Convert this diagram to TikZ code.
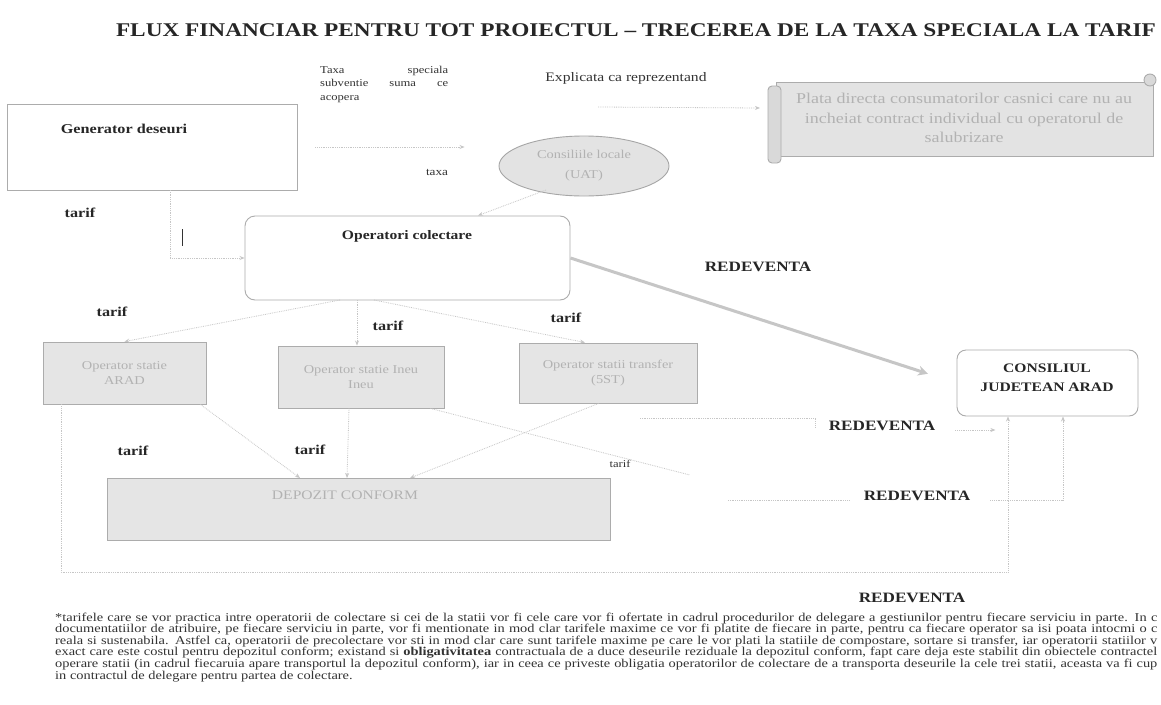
\documentclass[tikz,border=0pt]{standalone}
\usepackage{fontspec}
\setmainfont{Liberation Serif}[FakeStretch=1.2]
\usetikzlibrary{shapes.geometric,arrows.meta}
\tikzset{
  bl/.style={font=\bfseries\fontsize{13.5}{15}\selectfont, inner sep=0pt, text=black!85},
  red/.style={font=\bfseries\fontsize{14.3}{16}\selectfont, inner sep=0pt, text=black!85},
  ln/.style={draw=gray!45, densely dotted, line width=0.8pt},
  arr/.style={ln, -{Stealth[length=5pt,width=4pt]}},
  graybox/.style={draw=gray!65, fill=gray!20, line width=0.9pt, inner sep=0pt, text=gray!60, align=center, font=\fontsize{12}{15}\selectfont},
  whitebox/.style={draw=gray!65, line width=0.9pt, inner sep=0pt},
  fn/.style={anchor=base west, inner sep=0pt, font=\fontsize{12}{11.6}\selectfont, text=black!80}
}
\newcommand{\fnline}[1]{\makebox[1102pt][s]{#1}}
\begin{document}
\begin{tikzpicture}[x=1pt,y=-1pt]
\fill[white] (0,0) rectangle (1161,704);
\useasboundingbox (0,0) rectangle (1161,704);

% title
\node[font=\bfseries\fontsize{19.4}{22}\selectfont, inner sep=0, text=black!85] (title) at (636,30)
  {FLUX FINANCIAR PENTRU TOT PROIECTUL -- TRECEREA DE LA TAXA SPECIALA LA TARIF};

% top texts
\node[font=\fontsize{10.5}{13.5}\selectfont, align=left, inner sep=0, anchor=north west, text=black!80] (taxa) at (320,66)
  {\makebox[128pt][s]{Taxa speciala}\\ \makebox[128pt][s]{subventie suma ce}\\ acopera};
\node[font=\fontsize{13}{15}\selectfont, inner sep=0, text=black!80] (expl) at (626,78) {Explicata ca reprezentand};

% generator
\node[whitebox, minimum width=290pt, minimum height=86pt] (gen) at (152,147) {};
\node[bl] (gent) at (124,129) {Generator deseuri};

% UAT ellipse
\node[ellipse, draw=gray!70, fill=gray!22, line width=0.9pt, minimum width=170pt, minimum height=60pt, inner sep=0pt,
      align=center, text=gray!60, font=\fontsize{12}{20}\selectfont] (uat) at (584,166) {Consiliile locale\\(UAT)};

% scroll
\fill[gray!22, draw=gray!65, line width=0.9pt] (776,82) rectangle (1153,156);
\draw[gray!65, fill=gray!30, line width=0.9pt, rounded corners=4pt] (768,86) rectangle (781,163);
\draw[gray!65, fill=gray!30, line width=0.9pt] (1150,80) circle (6pt);
\node[align=center, text=gray!60, font=\fontsize{15}{19.5}\selectfont, inner sep=0] (scroll) at (964,118)
  {Plata directa consumatorilor casnici care nu au\\ incheiat contract individual cu operatorul de\\ salubrizare};
\coordinate (scw) at (760,108);

% taxa label
\node[font=\fontsize{11}{12}\selectfont, inner sep=0, text=black!80] (taxal) at (437,172) {taxa};

% operatori colectare
\node[whitebox, rounded corners=10pt, minimum width=325pt, minimum height=84pt] (opc) at (407.5,258) {};
\node[bl, font=\bfseries\fontsize{13}{15}\selectfont] (opct) at (407,236) {Operatori colectare};

% CJ
\node[whitebox, rounded corners=9pt, minimum width=181pt, minimum height=66pt] (cj) at (1047.5,383) {};
\node[bl, align=center, font=\bfseries\fontsize{13}{19}\selectfont] (cjt) at (1047,378) {CONSILIUL\\JUDETEAN ARAD};

% gray boxes
\node[graybox, minimum width=163pt, minimum height=62pt] (b1) at (124.5,373) {Operator statie\\ARAD};
\node[graybox, minimum width=166pt, minimum height=62pt] (b2) at (361,377) {Operator statie Ineu\\Ineu};
\node[graybox, minimum width=178pt, minimum height=60pt] (b3) at (608,373) {Operator statii transfer\\(5ST)};
\node[graybox, minimum width=503pt, minimum height=62pt] (dep) at (358.5,509) {};
\node[inner sep=0, text=gray!60, font=\fontsize{13}{15}\selectfont] (dept) at (345,495) {DEPOZIT CONFORM};

% labels
\node[bl] (t0) at (80,213) {tarif};
\node[bl] (t1) at (112,312) {tarif};
\node[bl] (t2) at (388,326) {tarif};
\node[bl] (t3) at (566,318) {tarif};
\node[bl] (t4) at (133,451) {tarif};
\node[bl] (t5) at (310,450) {tarif};
\node[font=\fontsize{10.5}{12}\selectfont, inner sep=0, text=black!80] (t6) at (620,464) {tarif};
\node[red] (r1) at (758,267) {REDEVENTA};
\node[red] (r2) at (882,426) {REDEVENTA};
\node[red] (r3) at (917,496) {REDEVENTA};
\node[red] (r4) at (912,598) {REDEVENTA};

% small cursor mark
\draw[black!80, line width=0.8pt] (182,229) -- (182,246);

% connectors
\coordinate (g1) at (170,190);
\draw[arr] (g1) |- (opc.west);
\draw[arr, shorten <=18pt, shorten >=34pt] (gen.east) -- (gen.east -| uat.west);
\coordinate (u1) at (598,107);
\draw[arr] (u1) -- (scw);
\coordinate (u2) at (546,190);
\draw[arr] (u2) -- (opc.north -| 478,0);
\coordinate (o1) at (340,300);
\coordinate (o2) at (357,300);
\coordinate (o3) at (374,300);
\draw[arr] (o1) -- (b1.north);
\draw[arr] (o2) -- (o2 |- b2.north);
\draw[arr] (o3) -- (b3.north -| 585,0);
\draw[gray!45, line width=3pt, shorten >=30pt, -{Stealth[length=10pt,width=10pt]}] (opc.east) -- (cj.west);

\draw[arr] (b1.south east) ++(-6,0) -- (300,478);
\draw[arr] (b2.south -| 349,0) -- (347,478);
\draw[arr] (b3.south west) ++(80,0) -- (410,478);
\draw[ln] (b2.south east) ++(-14,0) -- (690,475);

\coordinate (c1) at (640,418);
\draw[ln] (c1) -- (815,418) -- (815,428);
\draw[arr] (r2.east) ++(20,4) -- ++(40,0);
\coordinate (c2) at (728,500);
\draw[ln, shorten >=14pt] (c2) -- (c2 -| r3.west);
\draw[arr] (r3.east) ++(20,4) -| (cj.south -| 1063,0);
\draw[arr] (b1.south -| 61,0) |- (1008,572) -- (cj.south -| 1008,0);

% footnote (as printed, cut at the right edge)
\node[fn] (f1) at (55,621) {\fnline{*tarifele care se vor practica intre operatorii de colectare si cei de la statii vor fi cele care vor fi ofertate in cadrul procedurilor de delegare a gestiunilor pentru fiecare serviciu in parte. In c}};
\node[fn] (f2) at (55,632.6) {\fnline{documentatiilor de atribuire, pe fiecare serviciu in parte, vor fi mentionate in mod clar tarifele maxime ce vor fi platite de fiecare in parte, pentru ca fiecare operator sa isi poata intocmi o c}};
\node[fn] (f3) at (55,644.2) {\fnline{reala si sustenabila. Astfel ca, operatorii de precolectare vor sti in mod clar care sunt tarifele maxime pe care le vor plati la statiile de compostare, sortare si transfer, iar operatorii statiilor v}};
\node[fn] (f4) at (55,655.8) {\fnline{exact care este costul pentru depozitul conform; existand si \textbf{obligativitatea} contractuala de a duce deseurile reziduale la depozitul conform, fapt care deja este stabilit din obiectele contractel}};
\node[fn] (f5) at (55,667.4) {\fnline{operare statii (in cadrul fiecaruia apare transportul la depozitul conform), iar in ceea ce priveste obligatia operatorilor de colectare de a transporta deseurile la cele trei statii, aceasta va fi cup}};
\node[fn] (f6) at (55,679) {in contractul de delegare pentru partea de colectare.};
\end{tikzpicture}
\end{document}
